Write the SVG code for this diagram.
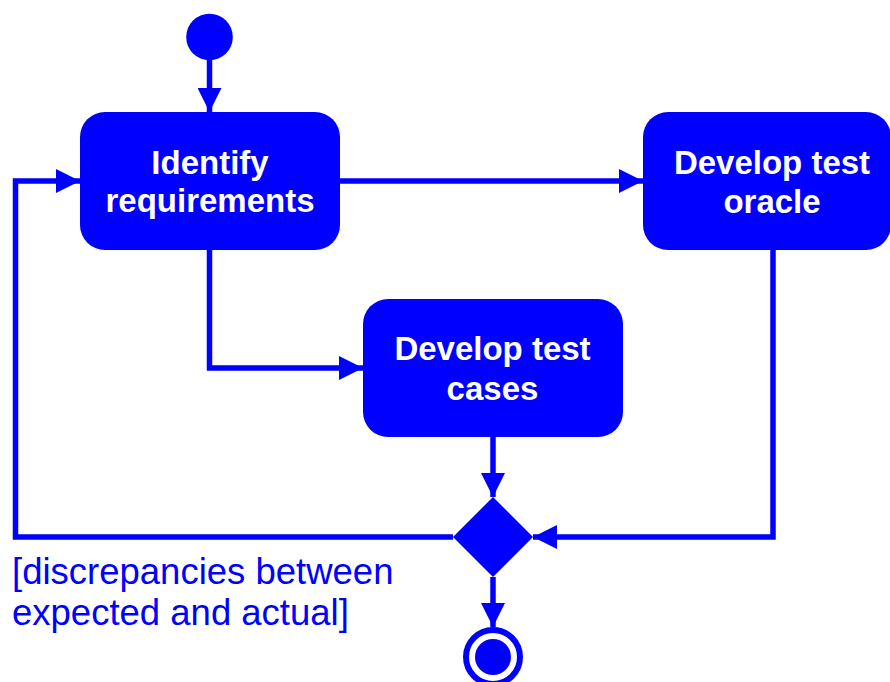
<svg xmlns="http://www.w3.org/2000/svg" width="890" height="682" viewBox="0 0 890 682">
  <style>
    .node { fill: #0000FF; }
    .lbl { fill: #FFFFFF; font-family: "Liberation Sans", Arial, sans-serif; font-weight: bold; font-size: 33px; text-anchor: middle; }
    .edge { fill: none; stroke: #0000FF; stroke-width: 5.5; }
    .guard { fill: #0000FF; font-family: "Liberation Sans", Arial, sans-serif; font-size: 36.5px; }
  </style>
  <defs>
    <marker id="arrow" viewBox="0 0 24 24" refX="24" refY="12" markerWidth="24" markerHeight="24" markerUnits="userSpaceOnUse" orient="auto">
      <path d="M0,0 L24,12 L0,24 Z" fill="#0000FF"/>
    </marker>
  </defs>
  <rect width="890" height="682" fill="#FFFFFF"/>
  <g id="connectors">
    <path class="edge" d="M209.5,58 V112" marker-end="url(#arrow)"/>
    <path class="edge" d="M340,181 H643" marker-end="url(#arrow)"/>
    <path class="edge" d="M209.5,250 V368 H363" marker-end="url(#arrow)"/>
    <path class="edge" d="M493,437 V497" marker-end="url(#arrow)"/>
    <path class="edge" d="M773,250 V537 H533" marker-end="url(#arrow)"/>
    <path class="edge" d="M453,537 H15.5 V181 H80" marker-end="url(#arrow)"/>
    <path class="edge" d="M493,577 V627" marker-end="url(#arrow)"/>
  </g>
  <g id="start">
    <circle class="node" cx="209.5" cy="37" r="23.3"/>
  </g>
  <g id="identify">
    <rect class="node" x="80" y="112" width="260" height="138" rx="25"/>
    <text class="lbl" x="210" y="174">Identify</text>
    <text class="lbl" x="210" y="212">requirements</text>
  </g>
  <g id="oracle">
    <rect class="node" x="643" y="112" width="248" height="138" rx="25"/>
    <text class="lbl" x="772" y="174">Develop test</text>
    <text class="lbl" x="772" y="213">oracle</text>
  </g>
  <g id="cases">
    <rect class="node" x="363" y="299" width="260" height="138" rx="25"/>
    <text class="lbl" x="492.5" y="360">Develop test</text>
    <text class="lbl" x="492.5" y="400">cases</text>
  </g>
  <g id="decision">
    <path class="node" d="M493,497 L533,537 L493,577 L453,537 Z"/>
  </g>
  <g id="guard">
    <text class="guard" x="12" y="584">[discrepancies between</text>
    <text class="guard" x="12" y="625">expected and actual]</text>
  </g>
  <g id="end">
    <circle cx="493" cy="657" r="27" fill="none" stroke="#0000FF" stroke-width="6"/>
    <circle class="node" cx="493" cy="657" r="18"/>
  </g>
</svg>
